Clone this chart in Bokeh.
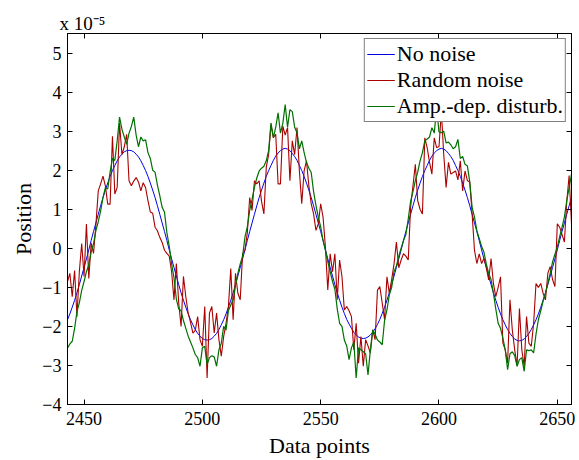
from bokeh.plotting import figure
from bokeh.models import (Range1d, FixedTicker, LinearAxis, Legend,
                          CustomLabelingPolicy)
from bokeh.embed import file_html
from bokeh.resources import INLINE

# ---- data (values in units of 1e-5) ----
x_start = 2443
x_ticks = [2450, 2500, 2550, 2600, 2650]
y_ticks = [-4, -3, -2, -1, 0, 1, 2, 3, 4, 5]
series_names = ["No noise", "Random noise", "Amp.-dep. disturb."]

no_noise = [
    # 2443-2469
    -1.83, -1.68, -1.51, -1.33, -1.14, -0.93, -0.71, -0.49, -0.27, -0.04,
    0.20, 0.43, 0.65, 0.87, 1.09, 1.30, 1.49, 1.67, 1.84, 1.99,
    2.12, 2.24, 2.34, 2.41, 2.47, 2.50, 2.51,
    # 2470-2502
    2.50, 2.47, 2.41, 2.34, 2.24, 2.12, 1.99, 1.84, 1.67, 1.49,
    1.30, 1.09, 0.87, 0.65, 0.43, 0.20, -0.04, -0.27, -0.49, -0.71,
    -0.93, -1.14, -1.33, -1.51, -1.68, -1.83, -1.96, -2.08, -2.18, -2.25,
    -2.31, -2.34, -2.35,
    # 2503-2535
    -2.34, -2.31, -2.25, -2.18, -2.08, -1.96, -1.83, -1.68, -1.51, -1.33,
    -1.14, -0.93, -0.71, -0.49, -0.27, -0.04, 0.20, 0.43, 0.65, 0.87,
    1.09, 1.30, 1.49, 1.67, 1.84, 1.99, 2.12, 2.25, 2.36, 2.44,
    2.50, 2.54, 2.56,
    # 2536-2568
    2.54, 2.50, 2.43, 2.35, 2.25, 2.12, 1.99, 1.84, 1.67, 1.49,
    1.30, 1.09, 0.87, 0.65, 0.43, 0.20, -0.04, -0.27, -0.49, -0.71,
    -0.93, -1.14, -1.33, -1.51, -1.67, -1.82, -1.94, -2.05, -2.15, -2.22,
    -2.27, -2.30, -2.31,
    # 2569-2601
    -2.30, -2.27, -2.22, -2.15, -2.06, -1.95, -1.82, -1.67, -1.51, -1.33,
    -1.14, -0.93, -0.71, -0.49, -0.27, -0.04, 0.20, 0.43, 0.65, 0.87,
    1.09, 1.30, 1.49, 1.67, 1.84, 1.99, 2.12, 2.25, 2.36, 2.44,
    2.50, 2.54, 2.56,
    # 2602-2634
    2.54, 2.50, 2.43, 2.35, 2.25, 2.12, 1.99, 1.84, 1.67, 1.49,
    1.30, 1.09, 0.87, 0.65, 0.43, 0.20, -0.04, -0.27, -0.49, -0.71,
    -0.93, -1.14, -1.33, -1.51, -1.68, -1.83, -1.96, -2.08, -2.18, -2.26,
    -2.32, -2.36, -2.37,
    # 2635-2656
    -2.36, -2.32, -2.26, -2.18, -2.08, -1.96, -1.83, -1.68, -1.51, -1.33,
    -1.14, -0.93, -0.71, -0.49, -0.27, -0.04, 0.20, 0.43, 0.65, 0.87,
    1.09, 1.30,
]

random_noise = [
    # 2443-2497
    -0.85, -0.64, -1.24, -0.57, -1.75, -0.60, 0.12, -0.72, 0.62, -0.77,
    0.13, -0.13, 0.60, 1.47, 1.65, 1.85, 1.60, 1.13, 1.13, 2.87,
    1.39, 1.56, 3.21, 2.40, 2.60, 2.92, 1.73, 1.60, 1.72, 1.81,
    1.70, 1.47, 1.68, 1.55, 1.22, 0.93, 0.90, 0.54, 0.45, 0.28,
    0.15, -0.05, -0.13, -0.20, -0.60, -1.32, -0.39, -1.40, -2.00, -0.72,
    -1.24, -1.66, -1.90, -2.17, -2.10,
    # 2498-2549
    -1.75, -2.34, -2.51, -1.49, -3.32, -1.66, -1.49, -2.17, -1.66, -2.34,
    -2.76, -2.26, -1.92, -1.50, -0.52, -1.83, -0.64, -1.15, -1.32, -0.14,
    -0.05, 0.40, 1.30, 0.97, 1.73, 1.65, 1.73, 1.20, 0.88, 2.07,
    2.40, 3.17, 2.83, 2.92, 1.65, 1.65, 3.13, 2.90, 3.09, 1.73,
    2.75, 2.40, 3.09, 1.98, 1.14, 1.98, 2.24, 1.60, 1.14, 0.88,
    0.46, 0.63,
    # 2550-2601
    1.14, 0.80, 0.03, -1.07, -0.14, -0.60, -0.14, -1.32, -0.30, -0.73,
    -1.58, -1.49, -1.60, -1.75, -2.60, -1.92, -2.94, -2.26, -3.02, -2.34,
    -2.50, -2.68, -2.09, -2.34, -1.07, -0.98, -1.40, -1.83, -0.73, -1.15,
    -0.80, -0.40, 0.16, -0.50, -0.30, -0.14, -0.20, -0.30, 1.05, 1.60,
    2.15, 1.22, 1.00, 0.88, 2.83, 2.58, 2.20, 1.90, 2.83, 2.58,
    2.60, 3.51,
    # 2602-2656
    2.41, 1.56, 2.20, 1.90, 1.94, 1.98, 1.75, 2.24, 1.47, 1.98,
    1.73, 1.70, 0.88, -0.05, -0.39, -0.14, -0.39, -0.26, -0.50, -0.81,
    -0.26, -0.90, -1.24, -1.00, -0.73, -2.43, -2.60, -2.94, -1.32, -2.10,
    -2.60, -3.02, -1.54, -2.60, -3.02, -1.75, -2.43, -2.51, -1.92, -0.90,
    -1.00, -0.90, -1.15, -1.32, -0.64, -0.47, -0.80, -0.98, 0.63, 0.54,
    0.35, 0.16, 1.20, 1.86, 0.63,
]

amp_dep_disturb = [
    # 2443-2497
    -2.55, -2.45, -2.38, -2.05, -1.62, -1.40, -1.08, -0.85, -0.60, -0.42,
    -0.10, 0.12, 0.45, 0.68, 0.95, 1.30, 1.55, 1.52, 1.95, 2.30,
    2.25, 2.75, 3.36, 3.05, 2.85, 2.66, 2.95, 3.12, 3.36, 2.90,
    2.60, 2.85, 2.75, 2.78, 2.45, 2.30, 2.00, 1.95, 1.62, 1.35,
    1.05, 0.92, 0.40, 0.05, -0.40, -0.75, -1.30, -1.55, -1.60, -1.85,
    -2.05, -2.25, -2.40, -2.55, -2.72,
    # 2498-2549
    -2.80, -3.02, -2.55, -2.51, -2.98, -2.80, -2.75, -2.78, -3.02, -2.60,
    -2.43, -2.00, -2.10, -1.60, -1.45, -1.32, -0.95, -0.64, -0.40, -0.20,
    0.29, 0.55, 0.97, 1.25, 1.56, 1.80, 1.98, 2.05, 2.10, 2.24,
    2.50, 3.21, 2.83, 3.10, 3.47, 2.95, 3.20, 3.68, 3.10, 3.55,
    3.50, 3.10, 2.96, 2.55, 2.75, 2.45, 2.20, 2.05, 1.94, 1.45,
    1.10, 0.80,
    # 2550-2601
    0.55, 0.20, -0.05, -0.35, -0.60, -0.85, -1.05, -1.55, -1.92, -2.00,
    -2.35, -2.50, -2.85, -2.55, -2.40, -3.32, -2.55, -2.60, -2.65, -2.70,
    -3.24, -2.60, -2.09, -2.20, -2.35, -2.40, -2.47, -1.85, -1.58, -1.20,
    -1.00, -0.60, -0.45, -0.20, 0.00, 0.20, 0.35, 0.75, 1.20, 1.45,
    1.73, 1.95, 2.24, 2.45, 2.75, 2.80, 2.85, 3.09, 2.95, 3.60,
    2.98, 2.96,
    # 2602-2656
    3.00, 2.70, 2.72, 2.65, 2.55, 2.60, 2.79, 2.30, 2.35, 2.15,
    2.11, 1.70, 1.05, 0.80, 0.45, 0.25, 0.05, -0.10, -0.40, -0.64,
    -0.80, -1.15, -1.55, -1.92, -2.05, -2.30, -2.60, -3.11, -2.70, -2.65,
    -2.75, -3.02, -2.85, -2.80, -3.15, -2.60, -2.62, -2.60, -2.68, -2.20,
    -1.83, -1.60, -1.35, -1.15, -0.90, -0.64, -0.35, -0.15, 0.03, 0.30,
    0.54, 0.80, 1.22, 1.55, 1.90,
]

FONT = "Liberation Serif"

p = figure(width=579, height=460, output_backend="svg", toolbar_location=None,
           x_range=Range1d(2443, 2656), y_range=Range1d(-4, 5.5),
           min_border_left=67, min_border_right=8, min_border_top=33,
           min_border_bottom=55, title="x 10\u207b\u2075")

p.xgrid.visible = False
p.ygrid.visible = False
p.outline_line_color = "black"
p.outline_line_width = 1
p.background_fill_color = "white"
p.border_fill_color = "white"

def xs(vals):
    return list(range(x_start, x_start + len(vals)))

r_blue = p.line(xs(no_noise), no_noise, line_color="#0000e6", line_width=1)
r_red = p.line(xs(random_noise), random_noise, line_color="#aa0000", line_width=1.1)
r_green = p.line(xs(amp_dep_disturb), amp_dep_disturb, line_color="#007000", line_width=1.2)

def style_axis(ax, show_labels=True):
    ax.axis_line_color = "black"
    ax.axis_line_width = 1
    ax.major_tick_in = 5
    ax.major_tick_out = 0
    ax.minor_tick_line_color = None
    ax.major_tick_line_color = "black"
    ax.major_label_text_font = FONT
    ax.major_label_text_color = "black"
    ax.axis_label_text_font = FONT
    ax.axis_label_text_font_style = "normal"
    ax.axis_label_text_color = "black"
    if show_labels:
        ax.major_label_text_font_size = "18px"
    else:
        ax.major_label_text_font_size = "0px"
        ax.major_label_policy = CustomLabelingPolicy(code="return new Set()")
        ax.major_label_standoff = 0

xa = p.xaxis[0]
ya = p.yaxis[0]
xa.ticker = FixedTicker(ticks=x_ticks)
ya.ticker = FixedTicker(ticks=y_ticks)
ya.major_label_overrides = {t: (("\u2212" + str(-t)) if t < 0 else str(t)) for t in y_ticks}
style_axis(xa)
style_axis(ya)
xa.axis_label = "Data points"
ya.axis_label = "Position"
xa.axis_label_text_font_size = "22px"
ya.axis_label_text_font_size = "22px"
xa.major_label_standoff = 7
ya.major_label_standoff = 6
xa.axis_label_standoff = 5
ya.axis_label_standoff = 3

top_ax = LinearAxis(ticker=FixedTicker(ticks=x_ticks))
right_ax = LinearAxis(ticker=FixedTicker(ticks=y_ticks))
style_axis(top_ax, show_labels=False)
style_axis(right_ax, show_labels=False)
p.add_layout(top_ax, "above")
p.add_layout(right_ax, "right")

# multiplier "x 10^-5" at the top left
p.title.align = "left"
p.title.offset = -8
p.title.standoff = 0
p.title.text_font = FONT
p.title.text_font_size = "19px"
p.title.text_font_style = "normal"
p.title.text_color = "black"

legend = Legend(items=[(series_names[0], [r_blue]),
                       (series_names[1], [r_red]),
                       (series_names[2], [r_green])],
                location="top_right")
legend.label_text_font = FONT
legend.label_text_font_size = "22px"
legend.label_text_color = "black"
legend.border_line_color = "black"
legend.border_line_width = 1
legend.background_fill_color = "white"
legend.background_fill_alpha = 1
legend.margin = 5
legend.padding = 2
legend.spacing = 0
legend.glyph_width = 28
legend.glyph_height = 16
legend.label_height = 16
legend.label_standoff = 2
p.add_layout(legend)

open("out.html", "w").write(file_html(p, INLINE))
